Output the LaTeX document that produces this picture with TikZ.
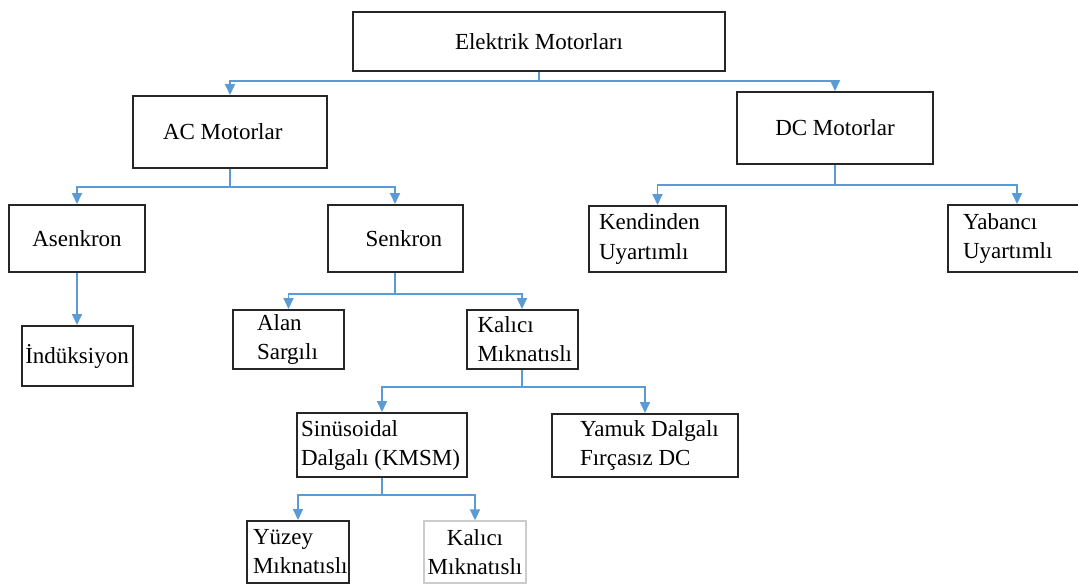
\documentclass[tikz,border=0pt]{standalone}
\usepackage{fontspec}
\setmainfont{Liberation Serif}
\usepackage{tikz}
\usetikzlibrary{arrows.meta, positioning}
\definecolor{okmavi}{HTML}{5B9BD5}
\tikzstyle{kutu} = [rectangle, draw=black!85, line width=2pt, fill=white, inner ysep=0pt, font=\fontsize{23}{29}\selectfont]
\tikzstyle{acik} = [rectangle, draw=black!20, line width=1.4pt, fill=white, inner ysep=0pt, font=\fontsize{23}{29}\selectfont]
\tikzstyle{arrow} = [draw=okmavi, line width=1.8pt, -{Triangle[length=11pt,width=10pt]}]

\begin{document}
\begin{tikzpicture}[x=1pt, y=-1pt]
\useasboundingbox (0,0) rectangle (1078,586);

\node (elektrik) [kutu, minimum width=372pt, minimum height=59pt, align=center] at (539,41.5) {Elektrik Motorları};

\node (ac) [kutu, minimum width=194pt, minimum height=72pt, inner xsep=30pt, text width=134pt, align=flush left] at (230,132) {AC Motorlar};
\node (dc) [kutu, minimum width=196pt, minimum height=72pt, align=center] at (835,128) {DC Motorlar};

\node (asenkron) [kutu, minimum width=136pt, minimum height=67pt, align=center] at (77,238.5) {Asenkron};
\node (senkron) [kutu, minimum width=135pt, minimum height=67pt, inner xsep=38pt, text width=59pt, align=flush left] at (395,238.5) {Senkron};
\node (kendinden) [kutu, minimum width=137pt, minimum height=66pt, inner xsep=10pt, text width=117pt, align=flush left] at (657.5,239) {Kendinden\\Uyartımlı};
\node (yabanci) [kutu, minimum width=138pt, minimum height=67pt, inner xsep=15pt, text width=108pt, align=flush left] at (1017,238.5) {Yabancı\\Uyartımlı};

\node (induksiyon) [kutu, minimum width=111pt, minimum height=60pt, align=center] at (77,356) {İndüksiyon};
\node (alan) [kutu, minimum width=111pt, minimum height=59pt, inner xsep=24pt, text width=63pt, align=flush left] at (288.5,339.5) {Alan\\Sargılı};
\node (kalici) [kutu, minimum width=111pt, minimum height=59pt, inner xsep=11pt, text width=89pt, align=flush left] at (522,339.5) {Kalıcı\\Mıknatıslı};

\node (sinus) [kutu, minimum width=170pt, minimum height=64pt, inner xsep=4pt, text width=162pt, align=flush left] at (382,445) {Sinüsoidal\\Dalgalı (KMSM)};
\node (yamuk) [kutu, minimum width=186pt, minimum height=63pt, inner xsep=28pt, text width=130pt, align=flush left] at (645,445.5) {\mbox{Yamuk Dalgalı}\\\mbox{Fırçasız DC}};

\node (yuzey) [kutu, minimum width=102pt, minimum height=62pt, inner xsep=6pt, text width=90pt, align=flush left] at (298,552) {Yüzey\\Mıknatıslı};
\node (kalici2) [acik, minimum width=102pt, minimum height=62pt, align=center] at (475,552) {Kalıcı\\Mıknatıslı};

% baglantilar
\draw [arrow] (elektrik.south) -- ([yshift=-9pt]elektrik.south) -| (ac.north);
\draw [arrow] (elektrik.south) -- ([yshift=-9pt]elektrik.south) -| (dc.north);

\draw [arrow] (ac.south) -- ([yshift=-18pt]ac.south) -| (asenkron.north);
\draw [arrow] (ac.south) -- ([yshift=-18pt]ac.south) -| (senkron.north);

\draw [arrow] (dc.south) -- ([yshift=-20pt]dc.south) -| (kendinden.north);
\draw [arrow] (dc.south) -- ([yshift=-20pt]dc.south) -| (yabanci.north);

\draw [arrow] (asenkron.south) -- (induksiyon.north);

\draw [arrow] (senkron.south) -- ([yshift=-21pt]senkron.south) -| (alan.north);
\draw [arrow] (senkron.south) -- ([yshift=-21pt]senkron.south) -| (kalici.north);

\draw [arrow] (kalici.south) -- ([yshift=-17pt]kalici.south) -| (sinus.north);
\draw [arrow] (kalici.south) -- ([yshift=-17pt]kalici.south) -| (yamuk.north);

\draw [arrow] (sinus.south) -- ([yshift=-17pt]sinus.south) -| (yuzey.north);
\draw [arrow] (sinus.south) -- ([yshift=-17pt]sinus.south) -| (kalici2.north);

\end{tikzpicture}
\end{document}
